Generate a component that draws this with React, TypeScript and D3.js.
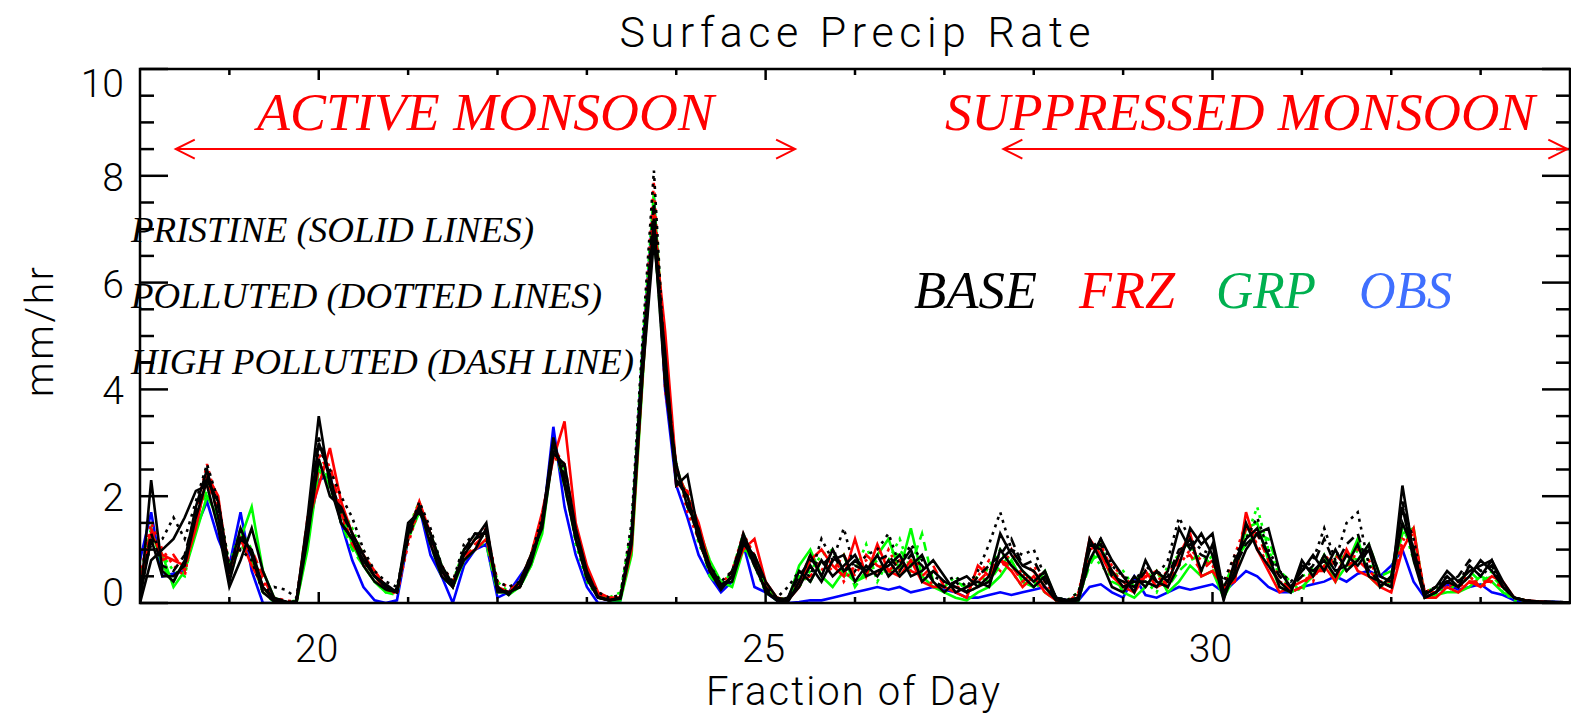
import * as d3 from "d3";

// sampling grid: 3-hourly, day 18 to day 34
const days = d3.range(0, 129).map((i) => 18 + i / 8);

// OBS
const obs = [
  0.8, 1.7, 0.5, 0.55, 0.6, 1.4, 1.9, 1.2,
  0.7, 1.7, 0.6, 0.0, 0.0, 0.0, 0.02, 1.3,
  2.3, 2.4, 1.5, 0.8, 0.3, 0.05, 0.0, 0.05,
  1.2, 1.8, 0.9, 0.5, 0.0, 0.7, 1.0, 1.1,
  0.1, 0.2, 0.5, 0.8, 1.4, 3.3, 1.8, 0.9,
  0.3, 0.0, 0.0, 0.05, 1.3, 4.8, 7.6, 4.0,
  2.2, 1.6, 0.9, 0.5, 0.2, 0.4, 1.1, 0.3,
  0.2, 0.05, 0.0, 0.02, 0.05, 0.05, 0.1, 0.15,
  0.2, 0.25, 0.3, 0.25, 0.3, 0.2, 0.25, 0.3,
  0.25, 0.2, 0.1, 0.1, 0.15, 0.2, 0.15, 0.2,
  0.25, 0.3, 0.1, 0.05, 0.05, 0.3, 0.35, 0.2,
  0.1, 0.5, 0.15, 0.1, 0.2, 0.3, 0.25, 0.3,
  0.35, 0.2, 0.4, 0.6, 0.5, 0.3, 0.2, 0.2,
  0.3, 0.35, 0.4, 0.5, 0.4, 0.55, 0.6, 0.5,
  0.7, 1.0, 0.4, 0.1, 0.2, 0.35, 0.25, 0.3,
  0.35, 0.2, 0.15, 0.05, 0.02, 0.02, 0.03, 0.02,
  0.0,
];

// GRP
const grpPristine = [
  0.3, 1.3, 0.9, 0.3, 0.6, 1.3, 2.0, 1.6,
  0.5, 1.2, 1.8, 0.6, 0.1, 0.02, 0.0, 1.0,
  2.5, 2.2, 1.7, 1.1, 0.7, 0.4, 0.2, 0.25,
  1.2, 1.7, 1.3, 0.7, 0.3, 0.8, 1.0, 1.2,
  0.3, 0.15, 0.3, 0.7, 1.3, 2.9, 2.5, 1.3,
  0.6, 0.15, 0.05, 0.05, 0.9, 4.2, 7.6, 4.6,
  2.5, 2.0, 1.4, 0.8, 0.4, 0.3, 1.0, 0.9,
  0.35, 0.1, 0.05, 0.7, 1.0, 0.5, 0.3, 0.6,
  0.4, 0.5, 0.9, 1.2, 0.6, 1.4, 0.5, 0.3,
  0.2, 0.1, 0.05, 0.2, 0.3, 0.5, 0.8, 0.4,
  0.3, 0.6, 0.05, 0.0, 0.05, 0.8, 0.9, 0.6,
  0.2, 0.1, 0.3, 0.6, 0.2, 0.4, 0.7, 0.5,
  0.6, 0.1, 0.5, 1.4, 1.5, 0.8, 0.3, 0.2,
  0.3, 0.5, 0.9, 0.4, 0.7, 1.2, 0.5, 0.3,
  0.5, 1.3, 1.4, 0.1, 0.15, 0.2, 0.2, 0.3,
  0.5, 0.4, 0.2, 0.1, 0.04, 0.02, 0.02, 0.01,
  0.0,
];
const grpPolluted = [
  0.2, 1.2, 0.9, 0.6, 0.5, 1.5, 2.3, 1.9,
  0.7, 1.4, 1.0, 0.3, 0.05, 0.0, 0.05, 1.3,
  2.7, 2.1, 1.8, 1.4, 0.9, 0.6, 0.3, 0.2,
  1.4, 1.9, 1.2, 0.6, 0.4, 1.0, 1.2, 1.3,
  0.4, 0.2, 0.4, 0.9, 1.6, 2.8, 2.4, 1.1,
  0.4, 0.1, 0.1, 0.2, 1.4, 4.9, 7.7, 4.4,
  2.3, 2.1, 1.1, 0.7, 0.3, 0.6, 1.3, 0.7,
  0.2, 0.05, 0.1, 0.3, 0.6, 0.9, 1.0, 0.5,
  0.6, 1.1, 0.4, 0.8, 1.2, 0.6, 0.9, 0.4,
  0.3, 0.5, 0.2, 0.3, 0.7, 1.0, 0.6, 0.3,
  0.6, 0.3, 0.1, 0.05, 0.2, 1.0, 0.7, 0.5,
  0.6, 0.3, 0.4, 0.2, 0.7, 0.9, 1.1, 0.6,
  0.9, 0.2, 0.7, 1.2, 1.8, 1.0, 0.5, 0.3,
  0.5, 0.6, 0.7, 0.9, 0.6, 1.0, 0.8, 0.3,
  0.4, 1.5, 0.8, 0.2, 0.2, 0.4, 0.3, 0.5,
  0.3, 0.6, 0.2, 0.05, 0.03, 0.02, 0.01, 0.01,
  0.0,
];
const grpHigh = [
  0.5, 1.4, 0.7, 0.4, 0.8, 1.6, 2.1, 1.5,
  0.5, 1.1, 0.8, 0.2, 0.02, 0.0, 0.0, 1.1,
  2.6, 2.3, 1.5, 1.0, 0.7, 0.4, 0.2, 0.15,
  1.3, 1.8, 1.1, 0.5, 0.3, 0.8, 1.1, 1.1,
  0.2, 0.2, 0.3, 0.7, 1.4, 3.0, 2.2, 1.2,
  0.5, 0.1, 0.05, 0.1, 1.1, 4.6, 7.0, 4.2,
  2.6, 1.8, 1.3, 0.5, 0.3, 0.5, 1.1, 0.7,
  0.3, 0.1, 0.05, 0.5, 0.4, 0.8, 0.6, 0.9,
  0.3, 0.6, 0.8, 0.5, 1.0, 0.7, 1.3, 0.4,
  0.2, 0.4, 0.3, 0.5, 0.4, 0.7, 0.9, 0.6,
  0.4, 0.2, 0.05, 0.05, 0.1, 0.7, 1.1, 0.4,
  0.3, 0.4, 0.6, 0.4, 0.3, 0.6, 0.8, 0.9,
  0.7, 0.3, 0.8, 1.1, 1.3, 1.2, 0.6, 0.4,
  0.2, 0.7, 0.6, 0.8, 0.9, 0.8, 1.1, 0.5,
  0.6, 1.4, 1.0, 0.2, 0.3, 0.2, 0.4, 0.6,
  0.4, 0.5, 0.3, 0.1, 0.05, 0.02, 0.02, 0.01,
  0.0,
];

// FRZ
const frzPristine = [
  0.4, 1.3, 0.9, 0.8, 0.7, 1.4, 2.4, 2.0,
  0.5, 1.2, 0.7, 0.3, 0.05, 0.02, 0.0, 1.5,
  2.2, 2.9, 1.9, 1.3, 0.9, 0.6, 0.3, 0.2,
  1.3, 1.9, 1.3, 0.6, 0.3, 0.9, 1.0, 1.2,
  0.3, 0.2, 0.4, 0.9, 1.7, 2.7, 3.4, 1.5,
  0.7, 0.2, 0.1, 0.1, 1.0, 4.3, 7.1, 5.1,
  2.5, 2.0, 1.5, 0.7, 0.3, 0.5, 1.0, 1.2,
  0.4, 0.1, 0.05, 0.3, 0.8, 1.0, 0.7, 0.5,
  1.2, 0.5, 1.1, 0.6, 0.5, 0.8, 0.4, 0.3,
  0.3, 0.2, 0.1, 0.7, 0.5, 0.8, 0.6, 0.3,
  0.5, 0.2, 0.05, 0.0, 0.1, 1.2, 0.9, 0.5,
  0.3, 0.2, 0.6, 0.3, 0.4, 0.9, 1.3, 0.5,
  0.6, 0.3, 0.4, 1.7, 1.0, 0.6, 0.2, 0.3,
  0.4, 0.5, 0.7, 0.4, 1.0, 0.6, 0.5, 0.3,
  0.2, 1.0, 1.4, 0.1, 0.1, 0.3, 0.2, 0.4,
  0.3, 0.5, 0.4, 0.1, 0.05, 0.03, 0.02, 0.01,
  0.0,
];
const frzPolluted = [
  0.5, 1.5, 1.0, 0.7, 0.5, 1.7, 2.6, 1.8,
  0.7, 1.2, 0.9, 0.4, 0.1, 0.05, 0.02, 1.3,
  2.8, 2.4, 1.6, 1.2, 0.7, 0.6, 0.3, 0.15,
  1.1, 1.8, 1.2, 0.7, 0.4, 0.9, 1.2, 1.4,
  0.4, 0.3, 0.3, 0.8, 1.5, 2.8, 2.4, 1.3,
  0.5, 0.1, 0.05, 0.1, 1.3, 4.7, 7.9, 4.0,
  2.6, 1.7, 1.2, 0.6, 0.35, 0.6, 1.3, 0.9,
  0.3, 0.05, 0.05, 0.4, 0.9, 0.6, 1.0, 0.4,
  0.7, 0.8, 0.5, 1.0, 0.6, 0.8, 0.7, 0.3,
  0.4, 0.3, 0.2, 0.5, 0.8, 0.6, 1.0, 0.5,
  0.7, 0.4, 0.1, 0.0, 0.2, 1.1, 1.0, 0.7,
  0.5, 0.3, 0.5, 0.4, 0.6, 0.7, 1.0, 0.8,
  0.7, 0.3, 0.9, 1.5, 1.1, 0.7, 0.4, 0.3,
  0.5, 0.4, 0.9, 0.7, 0.6, 1.0, 0.8, 0.4,
  0.4, 1.2, 1.1, 0.2, 0.3, 0.3, 0.4, 0.5,
  0.3, 0.4, 0.3, 0.1, 0.05, 0.02, 0.02, 0.01,
  0.0,
];
const frzHigh = [
  0.3, 1.4, 0.8, 0.9, 0.6, 1.5, 2.3, 1.7,
  0.6, 1.1, 1.0, 0.5, 0.05, 0.0, 0.02, 1.6,
  2.5, 2.6, 1.7, 1.1, 0.8, 0.5, 0.25, 0.2,
  1.2, 1.8, 1.3, 0.6, 0.4, 0.8, 1.1, 1.3,
  0.3, 0.2, 0.35, 0.8, 1.5, 2.9, 2.6, 1.4,
  0.6, 0.15, 0.08, 0.1, 1.1, 4.4, 7.4, 4.6,
  2.2, 2.1, 1.2, 0.6, 0.3, 0.5, 1.2, 0.8,
  0.3, 0.1, 0.05, 0.4, 0.5, 0.8, 0.6, 0.9,
  0.5, 0.9, 0.7, 0.6, 0.8, 0.6, 0.5, 0.7,
  0.3, 0.3, 0.3, 0.4, 0.6, 0.8, 0.7, 0.4,
  0.6, 0.3, 0.05, 0.05, 0.15, 1.0, 1.1, 0.6,
  0.4, 0.2, 0.5, 0.6, 0.3, 0.8, 0.9, 0.6,
  0.8, 0.2, 0.7, 1.4, 1.3, 0.8, 0.5, 0.2,
  0.3, 0.6, 0.6, 0.9, 0.7, 0.8, 0.6, 0.4,
  0.3, 1.1, 1.3, 0.2, 0.2, 0.4, 0.3, 0.4,
  0.4, 0.4, 0.3, 0.1, 0.04, 0.02, 0.01, 0.01,
  0.0,
];

// BASE
const basePristine = [
  0.0, 2.3, 0.6, 0.4, 0.8, 1.8, 2.5, 1.6,
  0.4, 1.2, 1.0, 0.3, 0.05, 0.02, 0.03, 1.6,
  3.5, 2.2, 1.5, 1.2, 0.8, 0.5, 0.3, 0.2,
  1.4, 1.8, 1.3, 0.6, 0.3, 0.9, 1.2, 1.5,
  0.2, 0.2, 0.3, 0.8, 1.5, 3.0, 2.3, 1.2,
  0.5, 0.1, 0.05, 0.1, 1.2, 4.6, 7.2, 4.2,
  2.3, 2.0, 1.2, 0.6, 0.3, 0.5, 1.3, 0.8,
  0.2, 0.05, 0.02, 0.4, 0.9, 0.5, 1.0, 0.6,
  0.8, 0.6, 0.9, 0.5, 0.7, 1.0, 0.4, 0.6,
  0.4, 0.3, 0.2, 0.3, 0.5, 1.3, 0.9, 0.6,
  0.4, 0.6, 0.1, 0.05, 0.1, 1.1, 1.0, 0.6,
  0.3, 0.4, 0.4, 0.3, 0.6, 1.4, 1.0, 1.3,
  0.9, 0.05, 0.8, 1.2, 1.4, 0.9, 0.3, 0.2,
  0.8, 0.5, 0.9, 0.6, 0.7, 1.1, 0.5, 0.4,
  0.3, 2.2, 0.9, 0.1, 0.2, 0.4, 0.3, 0.5,
  0.8, 0.6, 0.3, 0.1, 0.05, 0.03, 0.02, 0.02,
  0.01,
];
const basePristine2 = [
  0.0, 0.8, 1.0, 1.2, 1.6, 2.1, 2.2, 1.4,
  0.3, 0.8, 1.4, 0.6, 0.1, 0.02, 0.0, 1.2,
  2.7, 2.0, 1.8, 1.3, 0.9, 0.5, 0.35, 0.2,
  1.5, 1.7, 1.3, 0.7, 0.35, 0.8, 1.0, 1.4,
  0.3, 0.15, 0.4, 0.9, 1.4, 2.8, 2.6, 1.4,
  0.6, 0.12, 0.05, 0.08, 1.1, 4.3, 6.8, 4.7,
  2.2, 2.4, 1.3, 0.7, 0.35, 0.4, 1.1, 0.9,
  0.4, 0.1, 0.05, 0.3, 0.7, 0.4, 0.8, 0.9,
  0.4, 0.7, 0.5, 0.8, 0.5, 0.7, 0.9, 0.4,
  0.2, 0.4, 0.5, 0.3, 0.4, 0.8, 1.0, 0.7,
  0.6, 0.3, 0.05, 0.02, 0.05, 0.8, 1.2, 0.8,
  0.5, 0.2, 0.8, 0.4, 0.3, 0.7, 1.4, 1.1,
  1.3, 0.2, 0.5, 1.0, 1.3, 1.4, 0.6, 0.3,
  0.6, 0.9, 0.6, 1.0, 0.6, 0.8, 1.1, 0.5,
  0.4, 1.5, 1.0, 0.15, 0.3, 0.6, 0.4, 0.6,
  0.7, 0.8, 0.4, 0.1, 0.04, 0.02, 0.02, 0.01,
  0.0,
];
const basePristine3 = [
  0.1, 1.2, 0.5, 0.5, 0.7, 1.6, 2.3, 1.9,
  0.6, 1.4, 0.9, 0.2, 0.03, 0.0, 0.02, 1.4,
  3.0, 2.4, 1.5, 1.2, 0.7, 0.4, 0.25, 0.2,
  1.3, 1.8, 1.1, 0.5, 0.3, 1.0, 1.3, 1.3,
  0.25, 0.2, 0.3, 0.75, 1.5, 3.1, 2.2, 1.2,
  0.45, 0.1, 0.05, 0.1, 1.2, 4.7, 7.0, 4.1,
  2.6, 1.8, 1.4, 0.6, 0.25, 0.5, 1.2, 0.7,
  0.25, 0.05, 0.1, 0.6, 0.4, 0.8, 0.5, 0.7,
  0.9, 0.5, 0.6, 0.7, 0.9, 0.5, 0.6, 0.8,
  0.5, 0.2, 0.3, 0.4, 0.3, 1.0, 0.7, 0.5,
  0.3, 0.5, 0.1, 0.03, 0.1, 1.2, 0.8, 0.3,
  0.2, 0.5, 0.3, 0.6, 0.4, 0.9, 1.2, 0.6,
  1.1, 0.1, 0.6, 1.5, 1.0, 0.7, 0.4, 0.2,
  0.7, 0.6, 0.8, 0.5, 0.9, 0.7, 1.0, 0.3,
  0.5, 1.8, 0.8, 0.1, 0.2, 0.5, 0.3, 0.7,
  0.5, 0.8, 0.3, 0.1, 0.04, 0.02, 0.01, 0.01,
  0.0,
];
const basePolluted = [
  0.3, 1.1, 1.2, 1.6, 1.2, 1.9, 2.6, 1.9,
  0.7, 1.0, 0.8, 0.2, 0.3, 0.25, 0.1, 1.4,
  2.9, 2.5, 2.0, 1.6, 1.0, 0.6, 0.4, 0.3,
  1.3, 1.9, 1.4, 0.7, 0.4, 1.1, 1.3, 1.2,
  0.4, 0.3, 0.4, 0.9, 1.6, 2.9, 2.5, 1.3,
  0.5, 0.2, 0.1, 0.15, 1.5, 5.0, 8.1, 4.3,
  2.4, 2.0, 1.3, 0.7, 0.4, 0.6, 1.2, 0.7,
  0.3, 0.1, 0.3, 0.6, 0.5, 1.2, 0.8, 1.4,
  0.6, 0.9, 1.0, 1.3, 0.7, 1.1, 0.8, 0.5,
  0.4, 0.5, 0.3, 0.6, 1.1, 1.7, 1.0, 0.9,
  1.0, 0.5, 0.1, 0.05, 0.2, 1.0, 1.2, 0.7,
  0.5, 0.4, 0.7, 0.5, 0.8, 1.6, 1.2, 1.0,
  0.9, 0.4, 0.9, 1.2, 1.6, 1.0, 0.6, 0.4,
  0.6, 0.8, 1.4, 0.8, 1.5, 1.7, 0.7, 0.5,
  0.4, 1.8, 1.2, 0.2, 0.3, 0.5, 0.4, 0.7,
  0.5, 0.7, 0.3, 0.1, 0.05, 0.03, 0.02, 0.02,
  0.01,
];
const baseHigh = [
  0.2, 1.3, 0.7, 0.6, 0.9, 1.7, 2.4, 1.8,
  0.5, 1.3, 0.9, 0.3, 0.1, 0.03, 0.02, 1.5,
  3.1, 2.3, 1.7, 1.3, 0.8, 0.5, 0.3, 0.25,
  1.2, 1.8, 1.2, 0.6, 0.35, 1.0, 1.2, 1.3,
  0.3, 0.2, 0.3, 0.8, 1.5, 3.0, 2.4, 1.3,
  0.5, 0.1, 0.06, 0.1, 1.2, 4.5, 7.5, 4.4,
  2.5, 1.9, 1.2, 0.6, 0.3, 0.6, 1.2, 0.8,
  0.3, 0.05, 0.1, 0.5, 0.8, 0.7, 0.9, 0.6,
  0.7, 0.6, 0.8, 0.9, 0.6, 0.9, 0.7, 0.4,
  0.3, 0.4, 0.2, 0.5, 0.7, 0.9, 1.2, 0.7,
  0.8, 0.4, 0.1, 0.05, 0.1, 1.0, 1.1, 0.5,
  0.4, 0.3, 0.6, 0.4, 0.5, 1.0, 1.1, 0.9,
  0.8, 0.3, 0.7, 1.1, 1.3, 0.9, 0.5, 0.3,
  0.5, 0.7, 1.2, 0.7, 1.1, 1.3, 0.6, 0.4,
  0.3, 1.9, 1.0, 0.15, 0.3, 0.4, 0.5, 0.8,
  0.6, 0.7, 0.3, 0.1, 0.05, 0.02, 0.02, 0.01,
  0.0,
];

const yMajor = [0, 2, 4, 6, 8, 10];
const xMajor = [20, 25, 30];
const activeSpan = [18.4, 25.33];
const suppressedSpan = [27.66, 33.97];
const arrowLevel = 8.5;
const legendNames = ["BASE", "FRZ", "GRP", "OBS"];
const legendColors = ["#000000", "#ff0000", "#00b050", "#3f6fff"];
const legendX = [914, 1079, 1216, 1359];
const legendW = [123, 96, 100, 93];
const notes = ["PRISTINE (SOLID LINES)", "POLLUTED (DOTTED LINES)", "HIGH POLLUTED (DASH LINE)"];
const noteW = [403, 471, 503];

const DOT = "3,5";
const DASH = "9,6";
const series = [
  { v: obs, c: "#0000ff", d: null },
  { v: grpPristine, c: "#00ff00", d: null },
  { v: grpPolluted, c: "#00ff00", d: DOT },
  { v: grpHigh, c: "#00ff00", d: DASH },
  { v: frzPristine, c: "#ff0000", d: null },
  { v: frzPolluted, c: "#ff0000", d: DOT },
  { v: frzHigh, c: "#ff0000", d: DASH },
  { v: basePristine, c: "#000000", d: null },
  { v: basePristine2, c: "#000000", d: null },
  { v: basePristine3, c: "#000000", d: null },
  { v: basePolluted, c: "#000000", d: DOT },
  { v: baseHigh, c: "#000000", d: DASH },
];

const W = 1571;
const H = 715;
const m = { top: 69, right: 1, bottom: 112, left: 140 };
const hersh = "Roboto, 'DejaVu Sans', sans-serif";
const times = "'Liberation Serif', 'Times New Roman', serif";

export default function App() {
  const x = d3.scaleLinear().domain([18, 34]).range([m.left, W - m.right]);
  const y = d3.scaleLinear().domain([0, 10]).range([H - m.bottom, m.top]);
  const line = d3
    .line<number>()
    .x((_, i) => x(days[i]))
    .y((d) => y(d));

  const x0 = x.range()[0];
  const x1 = x.range()[1];
  const y0 = y.range()[0];
  const y1 = y.range()[1];

  const yMinor = d3.range(0, 10.01, 0.5).filter((v) => v % 2 !== 0);
  const xMinor = d3.range(19, 34, 1).filter((v) => v % 5 !== 0);

  const arrow = (span: number[], key: string) => {
    const a = x(span[0]);
    const b = x(span[1]);
    const yy = y(arrowLevel);
    return (
      <g key={key} stroke="#ff0000" strokeWidth={2} fill="none">
        <line x1={a} x2={b} y1={yy} y2={yy} />
        <path d={`M${a + 19},${yy - 9.5}L${a},${yy}L${a + 19},${yy + 9.5}`} />
        <path d={`M${b - 19},${yy - 9.5}L${b},${yy}L${b - 19},${yy + 9.5}`} />
      </g>
    );
  };

  return (
    <svg
      width={W}
      height={H}
      style={{ position: "absolute", left: 0, top: 0, background: "#fff" }}
    >
      <defs>
        <clipPath id="plot">
          <rect x={x0} y={y1} width={x1 - x0} height={y0 - y1} />
        </clipPath>
      </defs>

      <g clipPath="url(#plot)">
        {series.map((s, i) => (
          <path
            key={i}
            d={line(s.v) ?? ""}
            fill="none"
            stroke={s.c}
            strokeWidth={2.6}
            strokeDasharray={s.d ?? undefined}
            strokeLinejoin="miter"
          />
        ))}
      </g>

      {/* frame and ticks */}
      <rect x={x0} y={y1} width={x1 - x0} height={y0 - y1} fill="none" stroke="#000" strokeWidth={2.5} />
      <g stroke="#000" strokeWidth={2.5}>
        {yMajor.map((v) => (
          <g key={"ym" + v}>
            <line x1={x0} x2={x0 + 28} y1={y(v)} y2={y(v)} />
            <line x1={x1} x2={x1 - 28} y1={y(v)} y2={y(v)} />
          </g>
        ))}
        {yMinor.map((v) => (
          <g key={"yn" + v}>
            <line x1={x0} x2={x0 + 14} y1={y(v)} y2={y(v)} />
            <line x1={x1} x2={x1 - 14} y1={y(v)} y2={y(v)} />
          </g>
        ))}
        {xMajor.map((v) => (
          <g key={"xm" + v}>
            <line x1={x(v)} x2={x(v)} y1={y0} y2={y0 - 11} />
            <line x1={x(v)} x2={x(v)} y1={y1} y2={y1 + 11} />
          </g>
        ))}
        {xMinor.map((v) => (
          <g key={"xn" + v}>
            <line x1={x(v)} x2={x(v)} y1={y0} y2={y0 - 6} />
            <line x1={x(v)} x2={x(v)} y1={y1} y2={y1 + 6} />
          </g>
        ))}
      </g>

      {/* tick labels */}
      <g fontFamily={hersh} fontWeight={300} fontSize={39} fill="#000">
        {yMajor.map((v) => {
          const shift = v === 10 ? 15 : v === 0 ? -10 : 2;
          return (
            <text key={"yl" + v} x={124} y={y(v) + shift} textAnchor="end" dominantBaseline="central">
              {v}
            </text>
          );
        })}
        {xMajor.map((v) => (
          <text key={"xl" + v} x={x(v) - 2} y={662} textAnchor="middle">
            {v}
          </text>
        ))}
      </g>

      <text x={(x0 + x1) / 2} y={47} textAnchor="middle" fontFamily={hersh} fontWeight={300} fontSize={43} textLength={471} lengthAdjust="spacing">
        Surface Precip Rate
      </text>
      <text x={853} y={705} textAnchor="middle" fontFamily={hersh} fontWeight={300} fontSize={40} textLength={294} lengthAdjust="spacing">
        Fraction of Day
      </text>
      <text transform={`translate(53,332) rotate(-90)`} textAnchor="middle" fontFamily={hersh} fontWeight={300} fontSize={39} textLength={130} lengthAdjust="spacing">
        mm/hr
      </text>

      {/* monsoon annotations */}
      <g fontFamily={times} fontStyle="italic" fontSize={53} fill="#ff0000">
        <text x={257} y={130} textLength={457} lengthAdjust="spacingAndGlyphs">ACTIVE MONSOON</text>
        <text x={945} y={130} textLength={590} lengthAdjust="spacingAndGlyphs">SUPPRESSED MONSOON</text>
      </g>
      {arrow(activeSpan, "a")}
      {arrow(suppressedSpan, "s")}

      <g fontFamily={times} fontStyle="italic" fontSize={35} fill="#000">
        {notes.map((n, i) => (
          <text key={n} x={131} y={242 + i * 66} textLength={noteW[i]} lengthAdjust="spacingAndGlyphs">
            {n}
          </text>
        ))}
      </g>

      <g fontFamily={times} fontStyle="italic" fontSize={53}>
        {legendNames.map((n, i) => (
          <text key={n} x={legendX[i]} y={308} fill={legendColors[i]} textLength={legendW[i]} lengthAdjust="spacingAndGlyphs">
            {n}
          </text>
        ))}
      </g>
    </svg>
  );
}
